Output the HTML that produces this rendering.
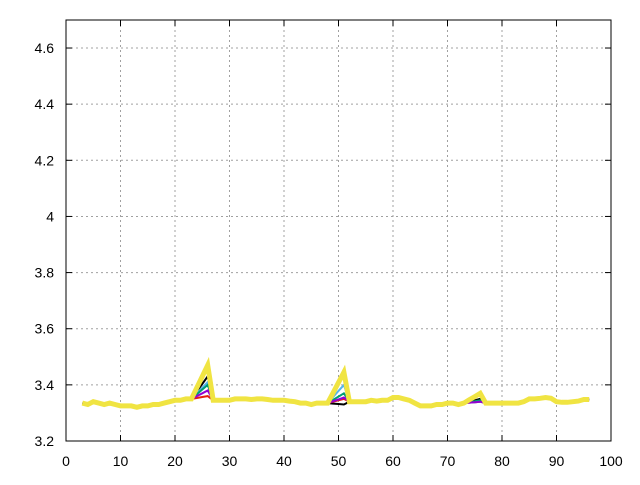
<!DOCTYPE html>
<html><head><meta charset="utf-8"><style>
body{margin:0;background:#fff}
svg text{font-family:"Liberation Sans",sans-serif;font-size:14px;fill:#000}
</style></head><body>
<svg id="chart" width="640" height="480" xmlns="http://www.w3.org/2000/svg">
<g id="grid"></g>
<g id="series"></g>
<rect x="66" y="20" width="545" height="421" fill="none" stroke="#000" stroke-width="1"/>
<g id="axes"></g>
</svg>
<script>
const xTicks=[0,10,20,30,40,50,60,70,80,90,100];
const yTicks=[3.2,3.4,3.6,3.8,4,4.2,4.4,4.6];
const baseX=[3,4,5,6,7,8,9,10,11,12,13,14,15,16,17,18,19,20,21,22,23,24,25,26,27,28,29,30,31,32,33,34,35,36,37,38,39,40,41,42,43,44,45,46,47,48,49,50,51,52,53,54,55,56,57,58,59,60,61,62,63,64,65,66,67,68,69,70,71,72,73,74,75,76,77,78,79,80,81,82,83,84,85,86,87,88,89,90,91,92,93,94,95,96];
const baseY=[3.335,3.33,3.34,3.335,3.33,3.335,3.33,3.325,3.325,3.325,3.32,3.325,3.325,3.33,3.33,3.335,3.34,3.345,3.345,3.35,3.35,3.35,3.35,3.45,3.345,3.345,3.345,3.345,3.35,3.35,3.35,3.348,3.35,3.35,3.348,3.345,3.345,3.345,3.342,3.34,3.335,3.335,3.33,3.335,3.335,3.335,3.335,3.335,3.44,3.34,3.34,3.34,3.34,3.345,3.342,3.345,3.345,3.355,3.355,3.35,3.345,3.335,3.325,3.325,3.325,3.33,3.33,3.335,3.335,3.33,3.335,3.335,3.335,3.37,3.335,3.335,3.335,3.335,3.335,3.335,3.335,3.34,3.35,3.35,3.352,3.355,3.352,3.34,3.338,3.338,3.34,3.342,3.348,3.348];
const peakIdx=[23,48,73];
const seriesNames=["black","red","blue","green","purple","yellow"];
const seriesColors=["#000000","#e51e10","#56b4e9","#009e73","#9400d3","#f0e442"];
const seriesPeaks=[[3.43,3.33,3.35],[3.36,3.35,3.34],[3.41,3.40,3.34],[3.40,3.37,3.345],[3.38,3.355,3.34],[3.47,3.445,3.37]];
const NS="http://www.w3.org/2000/svg";
const X=v=>66+v*5.45, Y=v=>441-(v-3.2)*280.7;
const grid=document.getElementById('grid'),axes=document.getElementById('axes'),sg=document.getElementById('series');
function mk(t,a,p){const e=document.createElementNS(NS,t);for(const k in a)e.setAttribute(k,a[k]);p.appendChild(e);return e;}
xTicks.forEach(v=>{
 if(v>0&&v<100){const l=mk('line',{x1:X(v),x2:X(v),y1:20,y2:441,stroke:'#a0a0a0','stroke-dasharray':'2,3'},grid);
 
 }
 mk('line',{x1:X(v),x2:X(v),y1:441,y2:435,stroke:'#000'},axes);
 mk('line',{x1:X(v),x2:X(v),y1:20,y2:26,stroke:'#000'},axes);
 const t=mk('text',{x:X(v),y:466,'text-anchor':'middle'},axes);t.textContent=v;
 
 
});
yTicks.forEach(v=>{
 if(v>3.2){const l=mk('line',{x1:66,x2:611,y1:Y(v),y2:Y(v),stroke:'#a0a0a0','stroke-dasharray':'2,3'},grid);
 
 }
 mk('line',{x1:66,x2:72,y1:Y(v),y2:Y(v),stroke:'#000'},axes);
 mk('line',{x1:605,x2:611,y1:Y(v),y2:Y(v),stroke:'#000'},axes);
 const t=mk('text',{x:54,y:Y(v)+5,'text-anchor':'end'},axes);t.textContent=String(v);
 
 
});
seriesNames.forEach((n,s)=>{
 const ys=baseY.slice();
 peakIdx.forEach((pi,k)=>{
  const b=baseY[pi-3],pk=seriesPeaks[s][k];
  ys[pi]=pk;ys[pi-1]=b+(pk-b)*2/3;ys[pi-2]=b+(pk-b)/3;
 });
 const pts=baseX.map((x,i)=>X(x).toFixed(1)+','+Y(ys[i]).toFixed(1)).join(' ');
 const w=n==='yellow'?5:2;
 const p=mk('polyline',{points:pts,fill:'none',stroke:seriesColors[s],'stroke-width':w,'stroke-linejoin':'miter'},sg);
 
 
});
</script>
</body></html>
